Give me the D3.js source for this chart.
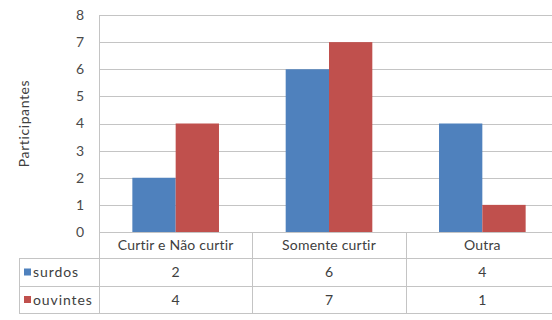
<!DOCTYPE html>
<html><head><meta charset="utf-8">
<script src="https://cdn.jsdelivr.net/npm/d3@7"></script>
<style>body{margin:0;background:#fff}svg{display:block}text{font-family:Lato,"Open Sans",sans-serif;fill:#404040}</style>
</head><body><svg id="c" width="552" height="320"></svg>
<script>
const categories = ["Curtir e Não curtir", "Somente curtir", "Outra"];
const seriesNames = ["surdos", "ouvintes"];
const surdos = [2, 6, 4];
const ouvintes = [4, 7, 1];
const yTicks = [0, 1, 2, 3, 4, 5, 6, 7, 8];
const colors = ["#4F81BD", "#C0504D"];
const yTitle = "Participantes";

const svg = d3.select("#c");
const L = 99, R = 559, T = 15, B = 232;
const rowH = [26, 28, 27];
const tableLeft = 19;

const x = d3.scaleBand().domain(categories).range([L, R]).paddingInner(0).paddingOuter(0);
const y = d3.scaleLinear().domain([0, 8]).range([B, T]);
const inner = d3.scaleBand().domain(seriesNames).range([0, x.bandwidth()]).paddingInner(0).paddingOuter(0.77);

const grid = "#c4c4c4";
// gridlines
svg.append("g").selectAll("line").data(yTicks).join("line")
  .attr("x1", L).attr("x2", 552).attr("y1", d => Math.round(y(d)) + 0.5).attr("y2", d => Math.round(y(d)) + 0.5)
  .attr("stroke", grid).attr("stroke-width", 1);

// y tick labels via axis
const ax = svg.append("g").attr("transform", `translate(${L},0)`)
  .call(d3.axisLeft(y).tickValues(yTicks).tickSize(0).tickPadding(15).tickFormat(d3.format("d")));
ax.select(".domain").remove();
ax.selectAll("text").style("font-size", "14px").style("fill", "#4a4a4a").attr("font-family", "Lato, sans-serif");

// y title
svg.append("text").attr("transform", `translate(29,${(T + B) / 2}) rotate(-90)`)
  .attr("text-anchor", "middle").style("font-size", "14px").style("letter-spacing", "0.6px").text(yTitle);

// bars
const data = [surdos, ouvintes];
data.forEach((vals, si) => {
  svg.append("g").selectAll("rect").data(vals).join("rect")
    .attr("x", (d, i) => x(categories[i]) + inner(seriesNames[si]))
    .attr("width", inner.bandwidth())
    .attr("y", d => y(d)).attr("height", d => B - y(d))
    .attr("fill", colors[si]);
});

// table
const r0 = B, r1 = B + rowH[0], r2 = r1 + rowH[1], r3 = r2 + rowH[2];
const tg = svg.append("g").attr("stroke", grid).attr("stroke-width", 1).attr("shape-rendering", "crispEdges");
tg.append("line").attr("x1", L).attr("x2", 552).attr("y1", r0 + 0.5).attr("y2", r0 + 0.5);
[r1, r2, r3].forEach(ry => tg.append("line").attr("x1", tableLeft).attr("x2", 552).attr("y1", ry + 0.5).attr("y2", ry + 0.5));
tg.append("line").attr("x1", L + 0.5).attr("x2", L + 0.5).attr("y1", T).attr("y2", r3);
tg.append("line").attr("x1", tableLeft + 0.5).attr("x2", tableLeft + 0.5).attr("y1", r1).attr("y2", r3);
categories.slice(1).forEach(c => tg.append("line").attr("x1", Math.round(x(c)) + 0.5).attr("x2", Math.round(x(c)) + 0.5).attr("y1", r0).attr("y2", r3));

// category labels
svg.append("g").selectAll("text").data(categories).join("text")
  .attr("x", d => x(d) + x.bandwidth() / 2).attr("y", (r0 + r1) / 2 + 5)
  .attr("text-anchor", "middle").style("font-size", "14px").style("letter-spacing", "0.2px").text(d => d);

// legend rows and values
const rowMid = [(r1 + r2) / 2, (r2 + r3) / 2];
seriesNames.forEach((s, si) => {
  svg.append("rect").attr("x", 24).attr("y", rowMid[si] - 3.5).attr("width", 7).attr("height", 7).attr("fill", colors[si]);
  svg.append("text").attr("x", 33).attr("y", rowMid[si] + 5).style("font-size", "14px").style("letter-spacing", "0.9px").text(s);
  svg.append("g").selectAll("text").data(data[si]).join("text")
    .attr("x", (d, i) => x(categories[i]) + x.bandwidth() / 2).attr("y", rowMid[si] + 5)
    .attr("text-anchor", "middle").style("font-size", "14px").text(d => d);
});
</script></body></html>
